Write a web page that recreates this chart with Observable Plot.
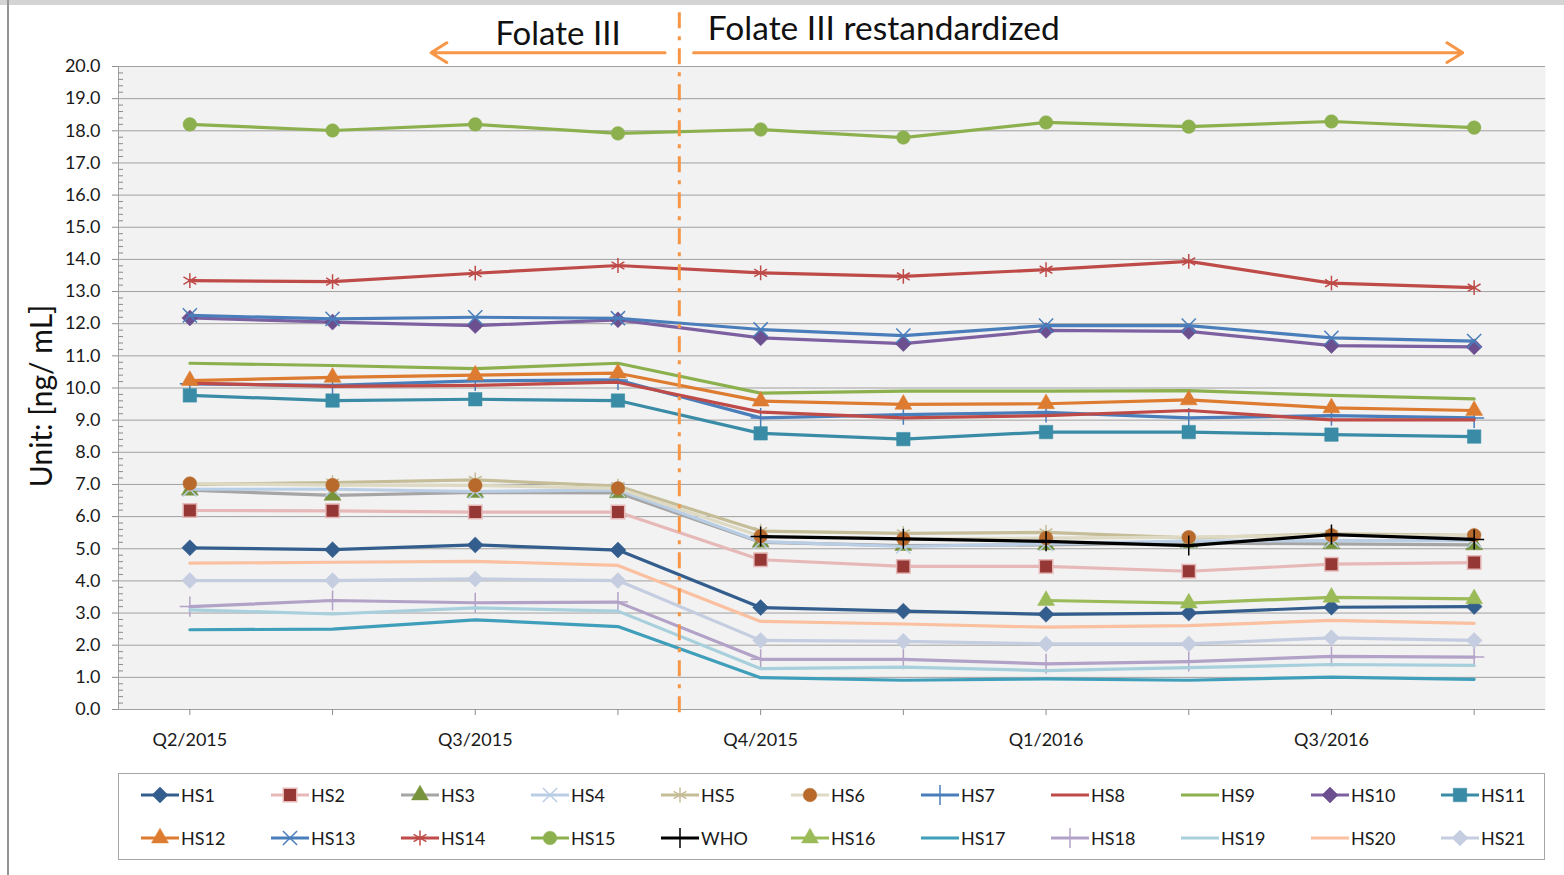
<!DOCTYPE html>
<html><head><meta charset="utf-8">
<script src="https://cdn.jsdelivr.net/npm/d3@7"></script>
<script src="https://cdn.jsdelivr.net/npm/@observablehq/plot@0.6"></script>
<style>
body{margin:0;background:#fff;font-family:Lato,"Liberation Sans",sans-serif;color:#1a1a1a}
#wrap{position:relative;width:1564px;height:875px;overflow:hidden}
#topband{position:absolute;left:0;top:0;width:1564px;height:5px;background:#d4d4d4}
#leftline{position:absolute;left:7px;top:0;width:1.5px;height:875px;background:#959595}
#chart{position:absolute;left:0;top:0}
#legend{position:absolute;left:118px;top:773px;width:1427px;height:87px;border:1px solid #a6a6a6;box-sizing:border-box;background:#fff}
.row{position:absolute;left:20px;display:flex}
.item{width:130px;display:flex;align-items:center;font-size:18px;white-space:nowrap}
.item svg{flex:none}
</style></head>
<body>
<div id="wrap"><div id="topband"></div><div id="leftline"></div><div id="chart"></div><div id="legend"></div></div>
<script>
// ---- data ----
const quarterLabels = ["Q2/2015","","Q3/2015","","Q4/2015","","Q1/2016","","Q3/2016",""];
const hs1  = [5.03, 4.97, 5.12, 4.96, 3.17, 3.06, 2.96, 3.00, 3.18, 3.20];
const hs2  = [6.19, 6.18, 6.14, 6.14, 4.66, 4.45, 4.45, 4.30, 4.52, 4.57];
const hs3  = [6.82, 6.66, 6.75, 6.74, 5.20, 5.10, 5.12, 5.18, 5.15, 5.12];
const hs4  = [6.85, 6.85, 6.78, 6.83, 5.22, 5.07, 5.15, 5.24, 5.25, 5.25];
const hs5  = [7.00, 7.06, 7.14, 6.95, 5.55, 5.48, 5.51, 5.34, 5.46, 5.42];
const hs6  = [7.03, 6.98, 6.97, 6.88, 5.39, 5.31, 5.33, 5.36, 5.42, 5.42];
const hs7  = [10.13, 10.08, 10.22, 10.25, 9.07, 9.17, 9.24, 9.07, 9.14, 9.07];
const hs8  = [10.15, 10.05, 10.08, 10.18, 9.25, 9.07, 9.14, 9.30, 9.01, 9.01];
const hs9  = [10.77, 10.70, 10.60, 10.77, 9.84, 9.90, 9.90, 9.92, 9.77, 9.66];
const hs10 = [12.18, 12.05, 11.94, 12.12, 11.56, 11.38, 11.79, 11.76, 11.32, 11.28];
const hs11 = [9.77, 9.61, 9.65, 9.61, 8.59, 8.41, 8.63, 8.63, 8.55, 8.49];
const hs12 = [10.23, 10.33, 10.40, 10.46, 9.59, 9.49, 9.51, 9.63, 9.38, 9.30];
const hs13 = [12.26, 12.15, 12.20, 12.17, 11.82, 11.63, 11.94, 11.94, 11.56, 11.46];
const hs14 = [13.34, 13.31, 13.57, 13.81, 13.58, 13.47, 13.68, 13.94, 13.26, 13.12];
const hs15 = [18.20, 18.01, 18.20, 17.92, 18.04, 17.79, 18.26, 18.13, 18.29, 18.10];
const who  = [null, null, null, null, 5.38, 5.31, 5.23, 5.10, 5.44, 5.29];
const hs16 = [null, null, null, null, null, null, 3.39, 3.31, 3.49, 3.44];
const hs17 = [2.48, 2.50, 2.79, 2.58, 0.99, 0.91, 0.95, 0.91, 1.01, 0.94];
const hs18 = [3.20, 3.39, 3.32, 3.34, 1.56, 1.56, 1.42, 1.49, 1.65, 1.63];
const hs19 = [3.10, 2.97, 3.16, 3.06, 1.27, 1.32, 1.21, 1.30, 1.40, 1.37];
const hs20 = [4.55, 4.58, 4.61, 4.48, 2.74, 2.66, 2.56, 2.61, 2.77, 2.68];
const hs21 = [4.01, 4.01, 4.06, 4.01, 2.15, 2.12, 2.04, 2.04, 2.23, 2.15];
const yTicks = d3.range(0, 21);
const periodNames = ["Folate III", "Folate III restandardized"];
// period boundaries, in category-index units
const periodArrowFrom = [3.33, 3.53];
const periodArrowTo   = [1.69, 8.92];
const periodTextAt    = [2.58, 3.63];
const changeAt = 3.43;

// ---- styles ----
const series = [
  {name:"HS1",  values:hs1,  color:"#335d8d", symbol:"diamond2", fill:"#335d8d"},
  {name:"HS2",  values:hs2,  color:"#e6b9b8", symbol:"square",   fill:"#953735", mstroke:"#e6b9b8"},
  {name:"HS3",  values:hs3,  color:"#a5a5a5", symbol:"triangle", fill:"#77933c"},
  {name:"HS4",  values:hs4,  color:"#b9cde5", symbol:"times"},
  {name:"HS5",  values:hs5,  color:"#c4bd97", symbol:"asterisk"},
  {name:"HS6",  values:hs6,  color:"#ddd9c3", symbol:"circle",   fill:"#b76a2c"},
  {name:"HS7",  values:hs7,  color:"#4a7ebb", symbol:"plus"},
  {name:"HS8",  values:hs8,  color:"#be4b48"},
  {name:"HS9",  values:hs9,  color:"#8db04f"},
  {name:"HS10", values:hs10, color:"#7d60a0", symbol:"diamond2", fill:"#6b4f8f"},
  {name:"HS11", values:hs11, color:"#3a8ca6", symbol:"square",   fill:"#3a8ca6"},
  {name:"HS12", values:hs12, color:"#dd7c30", symbol:"triangle", fill:"#dd7c30"},
  {name:"HS13", values:hs13, color:"#4a7ebb", symbol:"times"},
  {name:"HS14", values:hs14, color:"#be4b48", symbol:"asterisk"},
  {name:"HS15", values:hs15, color:"#8db04f", symbol:"circle",   fill:"#8db04f"},
  {name:"WHO",  values:who,  color:"#000000", symbol:"plus"},
  {name:"HS16", values:hs16, color:"#9bbb59", symbol:"triangle", fill:"#9bbb59"},
  {name:"HS17", values:hs17, color:"#3f9fba"},
  {name:"HS18", values:hs18, color:"#b3a2c7", symbol:"plus"},
  {name:"HS19", values:hs19, color:"#a8d0dc"},
  {name:"HS20", values:hs20, color:"#fac0a0"},
  {name:"HS21", values:hs21, color:"#c5cde0", symbol:"diamond2", fill:"#c5cde0"}
];
const strokeSymbols = new Set(["times","plus","asterisk"]);
const symR = {diamond2:7.2, square:7.6, triangle:6.3, circle:6.8, times:6.5, plus:6.5, asterisk:7};

const marks = [
  Plot.frame({fill:"#f2f2f2"}),
  Plot.gridY(yTicks.filter(d => d > 0), {stroke:"#a0a0a0", strokeOpacity:1}),
  Plot.ruleY([0], {stroke:"#a0a0a0"}),
  Plot.ruleX([-0.5], {stroke:"#a0a0a0"}),
  Plot.axisY(yTicks, {label:null, tickFormat: d => d.toFixed(1), tickSize:6, tickPadding:12, fontSize:18, stroke:"#8c8c8c", fill:"#1a1a1a"}),
  Plot.axisY(d3.range(0, 100).map(d => d/5).filter(d => d % 1 !== 0), {label:null, tickFormat: () => "", tickSize:-5, stroke:"#8c8c8c"}),
  Plot.axisX(d3.range(10), {label:null, tickFormat: i => quarterLabels[i], tickSize:6, tickPadding:18, fontSize:18, stroke:"#8c8c8c", fill:"#1a1a1a"}),
  Plot.text(["Unit: [ng/ mL]"], {frameAnchor:"left", textAnchor:"middle", dx:-76, dy:8, rotate:-90, fontSize:30, fill:"#111"}),
];
for (const s of series) {
  const rows = s.values.map((v, i) => ({i, v})).filter(d => d.v != null);
  marks.push(Plot.line(rows, {x:"i", y:"v", stroke:s.color, strokeWidth:3.2}));
  if (s.symbol) {
    const isStroke = strokeSymbols.has(s.symbol);
    marks.push(Plot.dot(rows, {x:"i", y:"v", symbol:s.symbol, r:symR[s.symbol],
      fill: isStroke ? "none" : s.fill,
      stroke: isStroke ? s.color : (s.mstroke || s.fill),
      strokeWidth: isStroke ? 1.5 : (s.mstroke ? 1.5 : 0.5)}));
  }
}
// annotations
marks.push(Plot.ruleX([changeAt], {y1:-0.1, y2:21.75, stroke:"#f79646", strokeWidth:3, strokeDasharray:"16,8,4,8"}));
const periods = periodNames.map((name, k) => ({name, from:periodArrowFrom[k], to:periodArrowTo[k], at:periodTextAt[k]}));
marks.push(Plot.arrow(periods, {x1:"from", x2:"to", y1:20.43, y2:20.43, stroke:"#f79646", strokeWidth:3, headLength:9.3, headAngle:64}));
marks.push(Plot.text([periods[0]], {x:"at", y:21.0, text:"name", fontSize:33, textAnchor:"middle", fill:"#111"}));
marks.push(Plot.text([periods[1]], {x:"at", y:21.15, text:"name", fontSize:33.5, textAnchor:"start", fill:"#111"}));

const chart = Plot.plot({
  width:1564, height:765,
  marginLeft:118, marginRight:19, marginTop:66, marginBottom:56,
  x:{domain:[-0.5, 9.5]},
  y:{domain:[0, 20]},
  style:{fontFamily:"Lato, 'Liberation Sans', sans-serif", background:"transparent", overflow:"visible"},
  marks
});
document.getElementById("chart").appendChild(chart);

// ---- legend ----
const legend = d3.select("#legend");
const rowsOf = [series.slice(0, 11), series.slice(11)];
const symMap = {diamond2:d3.symbolDiamond2, square:d3.symbolSquare, triangle:d3.symbolTriangle, circle:d3.symbolCircle,
                times:d3.symbolTimes, plus:d3.symbolPlus, asterisk:d3.symbolAsterisk};
rowsOf.forEach((rowSeries, r) => {
  const row = legend.append("div").attr("class", "row").style("top", (r === 0 ? 10 : 53) + "px");
  rowSeries.forEach(s => {
    const it = row.append("div").attr("class", "item");
    const svg = it.append("svg").attr("width", 42).attr("height", 22);
    svg.append("line").attr("x1", 2).attr("x2", 40).attr("y1", 11).attr("y2", 11)
      .attr("stroke", s.color).attr("stroke-width", 3.2);
    if (s.symbol) {
      const rr = symR[s.symbol];
      const isStroke = strokeSymbols.has(s.symbol);
      svg.append("path").attr("transform", "translate(21,11)")
        .attr("d", d3.symbol(symMap[s.symbol], rr * rr * Math.PI)())
        .attr("fill", isStroke ? "none" : s.fill)
        .attr("stroke", isStroke ? s.color : (s.mstroke || s.fill))
        .attr("stroke-width", isStroke ? 1.5 : (s.mstroke ? 1.5 : 0.5));
    }
    it.append("span").text(s.name);
  });
});
</script>
</body></html>
